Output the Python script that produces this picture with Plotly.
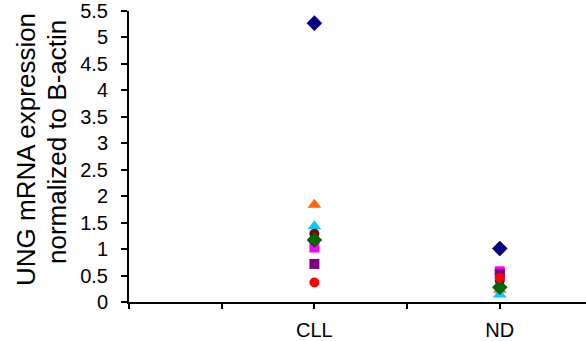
import plotly.graph_objects as go

# Groups on the x axis and their slot on the numeric axis
groups = ["CLL", "ND"]
group_slot = [2, 4]

# One trace per sample series: (name, symbol, colour, CLL value, ND value)
series_names = ["S1", "S2", "S3", "S4", "S5", "S6", "S7", "S8"]
series_symbols = ["diamond", "square", "square", "triangle-up", "triangle-up",
                  "circle", "diamond", "circle"]
series_colors = ["#000080", "#FF00FF", "#800080", "#FF6600", "#00CCFF",
                 "#800000", "#006600", "#FF0000"]
cll_values = [5.27, 1.03, 0.72, 1.84, 1.43, 1.29, 1.17, 0.37]
nd_values = [1.01, 0.58, 0.53, 0.23, 0.14, 0.40, 0.28, 0.46]

y_ticks = [0, 0.5, 1, 1.5, 2, 2.5, 3, 3.5, 4, 4.5, 5, 5.5]
title_lines = ["UNG mRNA expression", "normalized to B-actin"]

marker_sizes = {"diamond": 12, "square": 10, "triangle-up": 12, "circle": 10}

fig = go.Figure()
for name, sym, col, a, b in zip(series_names, series_symbols, series_colors,
                                cll_values, nd_values):
    fig.add_trace(go.Scatter(
        x=group_slot, y=[a, b], mode="markers", name=name,
        marker=dict(symbol=sym, color=col, size=marker_sizes[sym],
                    line=dict(width=0)),
        showlegend=False,
    ))

W, H = 586, 341
left, bottom, top = 129, 39, 11
unit_px = 92.7
x_max = (W - left) / unit_px
plot_w = W - left
plot_h = H - top - bottom


def px_to_paper_x(px):
    return (px - left) / plot_w


def px_to_paper_y(py):
    return (H - bottom - py) / plot_h


fig.update_layout(
    width=W, height=H,
    margin=dict(l=left, r=0, t=top, b=bottom),
    paper_bgcolor="white", plot_bgcolor="white",
    font=dict(family="Liberation Sans, Arial, sans-serif", color="black", size=20),
    xaxis=dict(
        range=[0, x_max], tickmode="array",
        tickvals=[0, 1, 2, 3, 4],
        ticktext=["", "", groups[0], "", groups[1]],
        showline=True, linecolor="black", linewidth=2,
        ticks="outside", ticklen=5, tickwidth=1.5, tickcolor="black",
        showgrid=False, zeroline=False,
        tickfont=dict(size=20), ticklabelstandoff=4,
    ),
    yaxis=dict(
        range=[0, 5.5], tickmode="array", tickvals=y_ticks,
        ticktext=[f"{v:g}" for v in y_ticks],
        showline=True, linecolor="black", linewidth=2,
        ticks="outside", ticklen=6, tickwidth=1.5, tickcolor="black",
        showgrid=False, zeroline=False,
        tickfont=dict(size=20), ticklabelstandoff=9,
    ),
    annotations=[
        dict(text=title_lines[0], xref="paper", yref="paper",
             x=px_to_paper_x(26), y=px_to_paper_y(150),
             xanchor="center", yanchor="middle", textangle=-90,
             showarrow=False, font=dict(size=26)),
        dict(text=title_lines[1], xref="paper", yref="paper",
             x=px_to_paper_x(57), y=px_to_paper_y(142),
             xanchor="center", yanchor="middle", textangle=-90,
             showarrow=False, font=dict(size=26)),
    ],
)

fig.write_html("out.html")
